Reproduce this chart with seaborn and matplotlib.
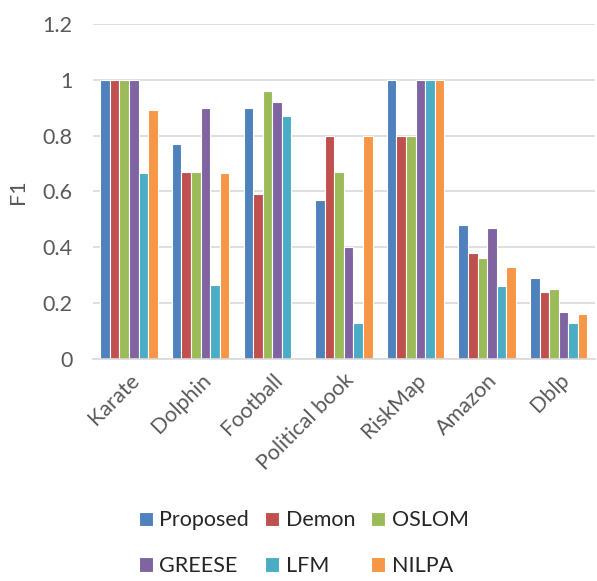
import pandas as pd
import seaborn as sns
import matplotlib.pyplot as plt

datasets = ['Karate', 'Dolphin', 'Football', 'Political book', 'RiskMap', 'Amazon', 'Dblp']
methods = ['Proposed', 'Demon', 'OSLOM', 'GREESE', 'LFM', 'NILPA']
proposed = [1.0, 0.77, 0.90, 0.57, 1.0, 0.48, 0.29]
demon = [1.0, 0.67, 0.59, 0.80, 0.80, 0.38, 0.24]
oslom = [1.0, 0.67, 0.96, 0.67, 0.80, 0.36, 0.25]
greese = [1.0, 0.90, 0.92, 0.40, 1.0, 0.47, 0.17]
lfm = [0.667, 0.265, 0.87, 0.13, 1.0, 0.26, 0.13]
nilpa = [0.89, 0.667, 0.0, 0.80, 1.0, 0.33, 0.16]
colors = ['#4F81BD', '#C0504D', '#9BBB59', '#8064A2', '#4BACC6', '#F79646']

rows = []
for m, vals in zip(methods, [proposed, demon, oslom, greese, lfm, nilpa]):
    for d, v in zip(datasets, vals):
        rows.append({'dataset': d, 'method': m, 'F1': v})
df = pd.DataFrame(rows)

sns.set_style("white")
plt.rcParams['font.family'] = ['Lato', 'DejaVu Sans']

fig = plt.figure(figsize=(5.97, 5.81), dpi=100)
ax = fig.add_axes([0.156, 0.382, 0.84, 0.577])
sns.barplot(data=df, x='dataset', y='F1', hue='method', palette=colors, saturation=1,
            width=0.8, edgecolor='white', linewidth=0.8, ax=ax)

ax.set_ylim(0, 1.2)
ax.set_yticks([0, 0.2, 0.4, 0.6, 0.8, 1.0, 1.2])
ax.set_yticklabels(['0', '0.2', '0.4', '0.6', '0.8', '1', '1.2'])
ax.yaxis.grid(True, color='#D9D9D9', linewidth=1.2)
ax.set_axisbelow(True)
for s in ['top', 'right', 'left']:
    ax.spines[s].set_visible(False)
ax.spines['bottom'].set_color('#D9D9D9')
ax.spines['bottom'].set_linewidth(1.2)
ax.tick_params(axis='y', colors='#595959', labelsize=15.5, length=0, pad=15)
ax.tick_params(axis='x', colors='#595959', labelsize=15.5, length=0, pad=8)
plt.setp(ax.get_xticklabels(), rotation=45, ha='right', rotation_mode='anchor')
ax.set_xlabel('')
ax.set_ylabel('F1', color='#595959', fontsize=15.5)
ax.yaxis.set_label_coords(-0.13, 0.5)

ax.get_legend().remove()
handles, labels = ax.get_legend_handles_labels()
order = [0, 3, 1, 4, 2, 5]
fig.legend([handles[i] for i in order], [labels[i] for i in order],
           loc='lower left', bbox_to_anchor=(0.2, -0.025), ncol=3,
           frameon=False, fontsize=15.5, handlelength=0.65, handleheight=0.65,
           columnspacing=0.75, handletextpad=0.3, labelspacing=1.2)

fig.savefig('out.png', dpi=100)
